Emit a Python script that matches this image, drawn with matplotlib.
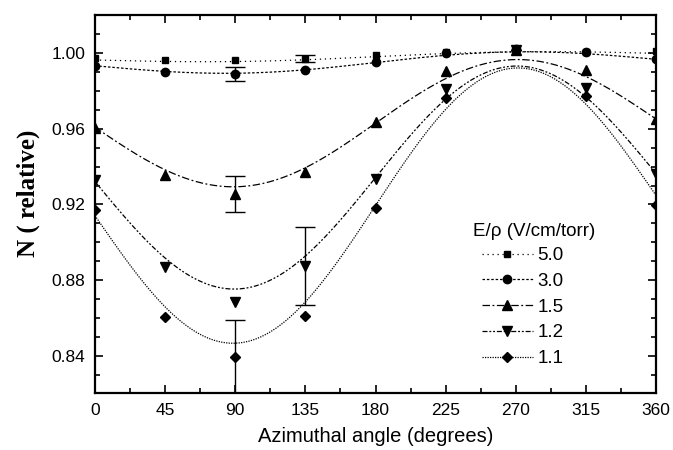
import numpy as np
import matplotlib
matplotlib.use("Agg")
import matplotlib.pyplot as plt
from matplotlib.lines import Line2D

angles = [0, 45, 90, 135, 180, 225, 270, 315, 360]

n_50 = [0.9972, 0.9960, 0.9963, 0.9970, 0.9990, 1.0007, 1.0020, 1.0007, 1.0010]
n_30 = [0.9933, 0.9898, 0.9889, 0.9911, 0.9951, 1.0002, 1.0020, 1.0007, 0.9970]
n_15 = [0.9604, 0.9358, 0.9253, 0.9370, 0.9635, 0.9902, 1.0015, 0.9910, 0.9653]
n_12 = [0.9330, 0.8868, 0.8684, 0.8874, 0.9337, 0.9809, 1.0015, 0.9814, 0.9363]
n_11 = [0.9170, 0.8605, 0.8395, 0.8610, 0.9183, 0.9761, 1.0015, 0.9770, 0.9196]

labels = ["5.0", "3.0", "1.5", "1.2", "1.1"]
series = [n_50, n_30, n_15, n_12, n_11]

# fitted curves: value at 180 deg, sine amplitude,
# and overall drift from 0 to 360 deg
fit_mid = [0.9980, 0.9949, 0.9629, 0.9342, 0.9194]
fit_amp = [0.0017, 0.0048, 0.0325, 0.0578, 0.0700]
fit_drift = [0.0035, 0.0034, 0.0043, 0.0042, 0.0105]

# error bars: (series index, angle, half-width)
err_series = [0, 1, 2, 3, 4]
err_angle = [135, 90, 90, 135, 90]
err_half = [0.0020, 0.0037, 0.0095, 0.0205, 0.0195]

markers = ["s", "o", "^", "v", "D"]
msizes = [5, 6, 7.5, 7.5, 5.5]
linestyles = [(0, (1, 3)), (0, (2, 1.5)), (0, (6, 2, 1.5, 2)),
              (0, (4, 1.5, 1.5, 1.5, 1.5, 1.5)), (0, (1, 1))]

plt.rcParams['font.family'] = ['Liberation Sans', 'DejaVu Sans']

fig = plt.figure(figsize=(6.73, 4.5), dpi=100)
ax = fig.add_axes([0.141, 0.1267, 0.834, 0.84])

xf = np.linspace(0, 360, 721)
handles = []
for i, (y, lab) in enumerate(zip(series, labels)):
    curve = (fit_mid[i] - fit_amp[i] * np.sin(np.radians(xf))
             + fit_drift[i] * (xf - 180) / 360)
    ax.plot(xf, curve, color="black", lw=0.9, ls=linestyles[i])
    ax.plot(angles, y, ls="none", marker=markers[i], ms=msizes[i],
            color="black", mfc="black", mec="black")
    handles.append(Line2D([], [], color="black", lw=0.9, ls=linestyles[i],
                          marker=markers[i], ms=msizes[i]))

for si, a, h in zip(err_series, err_angle, err_half):
    yv = series[si][angles.index(a)]
    ax.errorbar([a], [yv], yerr=[h], fmt="none", ecolor="black",
                elinewidth=1.0, capsize=7, capthick=1.0)

ax.set_xlim(0, 360)
ax.set_ylim(0.8205, 1.02)
ax.set_xticks(np.arange(0, 361, 45))
ax.set_xticks(np.arange(0, 361, 22.5), minor=True)
ax.set_yticks([0.84, 0.88, 0.92, 0.96, 1.00])
ax.set_yticks(np.arange(0.83, 1.021, 0.01), minor=True)
ax.yaxis.set_major_formatter(matplotlib.ticker.FormatStrFormatter("%.2f"))
ax.tick_params(which="both", direction="in", top=True, right=True,
               labelsize=12.5, width=1.2)
ax.tick_params(which="major", length=6, pad=7)
ax.tick_params(which="minor", length=3.5)
for s in ax.spines.values():
    s.set_linewidth(1.6)

ax.set_xlabel("Azimuthal angle (degrees)", fontsize=14.5, labelpad=7)
ax.set_ylabel("N ( relative)", fontsize=18, fontweight="bold",
              family=["Liberation Serif", "DejaVu Serif"])
ax.yaxis.set_label_coords(-0.097, 0.529)

fig.text(473 / 673, 1 - 232 / 450, "E/ρ (V/cm/torr)", fontsize=13.5,
         ha="left", va="center")
leg = fig.legend(handles, labels, loc="upper left",
                 bbox_to_anchor=(482 / 673, 1 - 247 / 450),
                 frameon=False, fontsize=13.5, handlelength=2.7,
                 handletextpad=0.25, labelspacing=0.46, borderpad=0.0,
                 borderaxespad=0.0)

fig.savefig("out.png", dpi=100)
